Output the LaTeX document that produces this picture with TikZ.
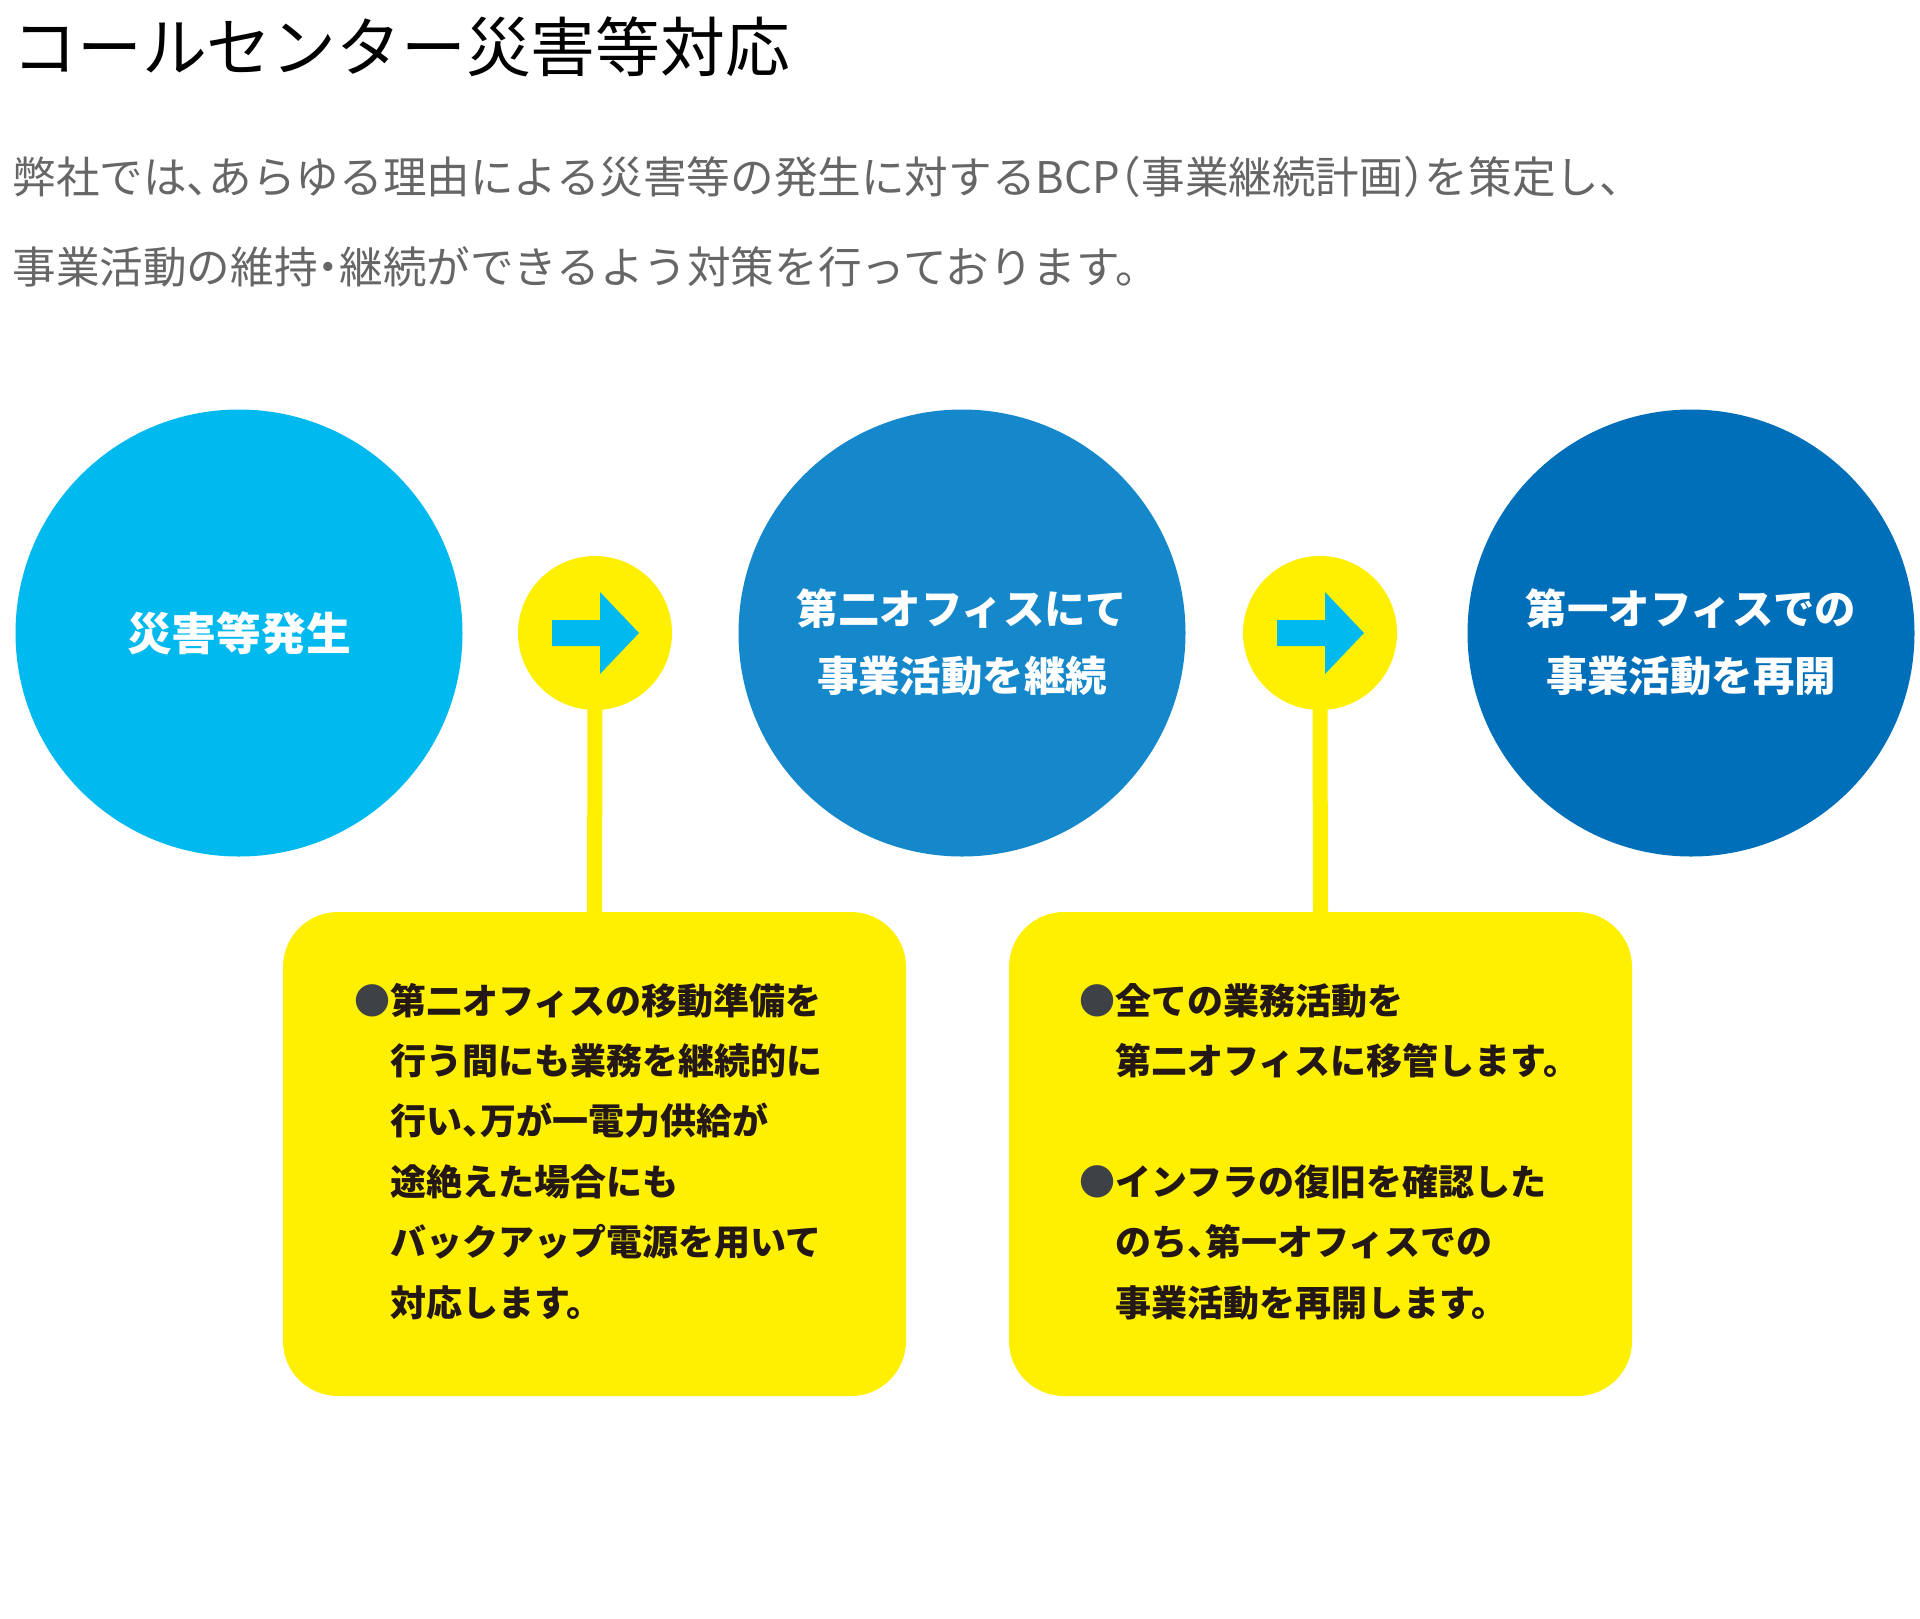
\documentclass[tikz,border=0pt]{standalone}
\usepackage{fontspec}
\setmainfont{Noto Sans CJK JP}
\newfontfamily\halffont{Noto Sans CJK JP}[RawFeature=+halt]
\definecolor{ccyan}{HTML}{00B9EF}
\definecolor{cmid}{HTML}{1588CB}
\definecolor{cdark}{HTML}{006FBA}
\definecolor{cyel}{HTML}{FFF000}
\definecolor{cgray}{HTML}{666666}
\definecolor{cink}{HTML}{231815}
\definecolor{cbul}{HTML}{3E4145}
\begin{document}
\begin{tikzpicture}[x=0.5pt,y=-0.5pt,
  bigcirc/.style={circle,inner sep=0pt,minimum size=223.5pt,text=white,align=center,font=\bfseries\fontsize{20.7pt}{33.5pt}\selectfont},
  smallcirc/.style={circle,inner sep=0pt,minimum size=77pt,fill=cyel},
  infobox/.style={rectangle,rounded corners=27.5pt,fill=cyel,minimum width=311.5pt,minimum height=242pt,inner sep=0pt},
  boxtext/.style={anchor=north west,inner sep=0pt,align=left,text=cink,font=\halffont\bfseries\fontsize{18pt}{30.2pt}\selectfont},
  circtext/.style={text=white,align=center,font=\bfseries\fontsize{20.7pt}{33.5pt}\selectfont},
  connector/.style={draw=cyel,line width=7.5pt},
  arrowshape/.style={fill=ccyan},
  bodytext/.style={anchor=west,inner sep=0pt,text=cgray,font=\halffont\fontsize{21.8pt}{25pt}\selectfont}]
\useasboundingbox[fill=white] (0,0) rectangle (1920,1618);
% title and intro
\node[anchor=west,inner sep=0pt,font=\fontsize{32.4pt}{36pt}\selectfont] (title) at (12,47) {コールセンター災害等対応};
\node[bodytext] (intro1) at (12,177) {弊社では、あらゆる理由による災害等の発生に対するBCP（事業継続計画）を策定し、};
\node[bodytext] (intro2) at (12,267) {事業活動の維持・継続ができるよう対策を行っております。};
% small circles and boxes
\node[smallcirc] (s1) at (595,633) {};
\node[smallcirc] (s2) at (1320,633) {};
\node[infobox] (b1) at (594.5,1154) {};
\node[infobox] (b2) at (1320.5,1154) {};
\draw[connector] ([yshift=2]s1.south) -- ([yshift=-2]b1.north);
\draw[connector] ([yshift=2]s2.south) -- ([yshift=-2]b2.north);
% arrows
\foreach \c in {s1,s2}{
  \fill[arrowshape] ([shift={(-43,-13)}]\c.center) -- ([shift={(5,-13)}]\c.center) -- ([shift={(5,-41)}]\c.center)
     -- ([shift={(44,0)}]\c.center) -- ([shift={(5,41)}]\c.center) -- ([shift={(5,13)}]\c.center)
     -- ([shift={(-43,13)}]\c.center) -- cycle;
}
% big circles
\node[bigcirc,fill=ccyan,font=\bfseries\fontsize{22.4pt}{33.5pt}\selectfont] (c1) at (239,633) {災害等発生};
\node[bigcirc,fill=cmid] (c2) at (962,633) {};
\node[bigcirc,fill=cdark] (c3) at (1691,633) {};
\node[circtext] (c2t) at ([yshift=-4.5pt]c2.center) {第二オフィスにて\\事業活動を継続};
\node[circtext] (c3t) at ([yshift=-4.5pt]c3.center) {第一オフィスでの\\事業活動を再開};
% box texts
\node[boxtext] (b1t) at (354,965.7) {\rule{0pt}{24pt}\textcolor{cbul}{●}第二オフィスの移動準備を\\
\hspace*{1em}行う間にも業務を継続的に\\
\hspace*{1em}行い、万が一電力供給が\\
\hspace*{1em}途絶えた場合にも\\
\hspace*{1em}バックアップ電源を用いて\\
\hspace*{1em}対応します。};
\node[boxtext] (b2t) at (1079,965.7) {\rule{0pt}{24pt}\textcolor{cbul}{●}全ての業務活動を\\
\hspace*{1em}第二オフィスに移管します。\\[30.2pt]
\textcolor{cbul}{●}インフラの復旧を確認した\\
\hspace*{1em}のち、第一オフィスでの\\
\hspace*{1em}事業活動を再開します。};
\end{tikzpicture}
\end{document}
